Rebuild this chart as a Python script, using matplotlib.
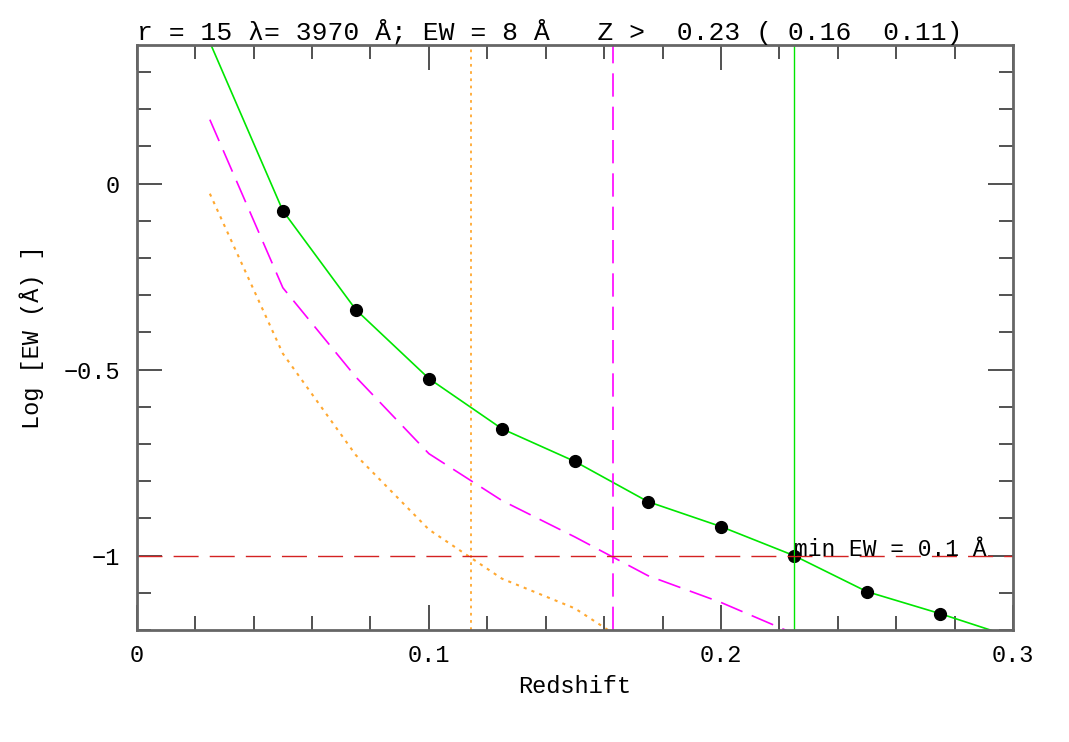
import numpy as np
import matplotlib
matplotlib.use("Agg")
import matplotlib.pyplot as plt
from matplotlib.ticker import MultipleLocator, FuncFormatter

plt.rcParams['font.family'] = ['Liberation Mono', 'DejaVu Sans Mono']

# green: measured points (with markers)
z_pts = [0.05, 0.075, 0.1, 0.125, 0.15, 0.175, 0.2, 0.225, 0.25, 0.275]
ew_pts = [-0.073, -0.339, -0.524, -0.659, -0.747, -0.855, -0.922, -1.0, -1.097, -1.156]

# green curve (extends beyond the markers)
z_green = [0.025, 0.05, 0.075, 0.1, 0.125, 0.15, 0.175, 0.2, 0.225, 0.25, 0.275, 0.3]
ew_green = [0.38, -0.073, -0.339, -0.524, -0.659, -0.747, -0.855, -0.922, -1.0, -1.097, -1.156, -1.22]

# magenta dashed curve
z_mag = [0.025, 0.05, 0.075, 0.1, 0.125, 0.15, 0.175, 0.2, 0.225]
ew_mag = [0.172, -0.28, -0.52, -0.726, -0.852, -0.95, -1.054, -1.126, -1.21]

# orange dotted curve
z_org = [0.025, 0.05, 0.075, 0.1, 0.125, 0.15, 0.175]
ew_org = [-0.027, -0.457, -0.73, -0.93, -1.062, -1.142, -1.27]

# limits
z_lim_green = 0.225
z_lim_mag = 0.163
z_lim_org = 0.1145
min_ew = -1.0

title = "r = 15 \u03bb= 3970 \u00c5; EW = 8 \u00c5   Z >  0.23 ( 0.16  0.11)"

green = '#00e600'
magenta = '#ff00ff'
orange = '#ffa830'
red = '#d42222'

fig = plt.figure(figsize=(10.69, 7.42), dpi=100)
ax = fig.add_axes([0.128, 0.151, 0.8196, 0.788])

ax.plot(z_green, ew_green, color=green, lw=1.2)
ax.plot(z_mag, ew_mag, color=magenta, lw=1.2, dashes=(14, 6))
ax.plot(z_org, ew_org, color=orange, lw=1.5, dashes=(1.5, 2.5))
ax.plot(z_pts, ew_pts, 'o', color='black', ms=8.5)

ax.axvline(z_lim_green, color=green, lw=1.0)
ax.axvline(z_lim_mag, color=magenta, lw=1.2, dashes=(14, 6))
ax.axvline(z_lim_org, color=orange, lw=1.3, dashes=(1.5, 2.5))
ax.axhline(min_ew, color=red, lw=1.0, dashes=(18, 8))

ax.text(z_lim_green, min_ew, "min EW = 0.1 \u00c5", fontsize=16.5,
        ha='left', va='baseline')

ax.set_xlim(0, 0.3)
ax.set_ylim(-1.2, 0.372)
ax.xaxis.set_major_locator(MultipleLocator(0.1))
ax.xaxis.set_minor_locator(MultipleLocator(0.02))
ax.yaxis.set_major_locator(MultipleLocator(0.5))
ax.yaxis.set_minor_locator(MultipleLocator(0.1))
ax.xaxis.set_major_formatter(FuncFormatter(lambda v, p: '0' if abs(v) < 1e-9 else f'{v:g}'))
ax.yaxis.set_major_formatter(FuncFormatter(lambda v, p: '0' if abs(v) < 1e-9 else f'{v:g}'.replace('-', '\u2212')))

ax.tick_params(which='both', direction='in', top=True, right=True,
               labelsize=17, color='#333333', pad=10)
ax.tick_params(axis='y', pad=12)
ax.tick_params(which='major', length=18, width=1.2)
ax.tick_params(which='minor', length=10, width=1.2)
for s in ax.spines.values():
    s.set_color('#666666')
    s.set_linewidth(2)

ax.set_xlabel("Redshift", fontsize=17, labelpad=6)
ax.set_ylabel("Log [EW (\u00c5) ]", fontsize=17, labelpad=14)
ax.set_title(title, fontsize=19, loc='left', pad=3)

fig.savefig("out.png", dpi=100)
